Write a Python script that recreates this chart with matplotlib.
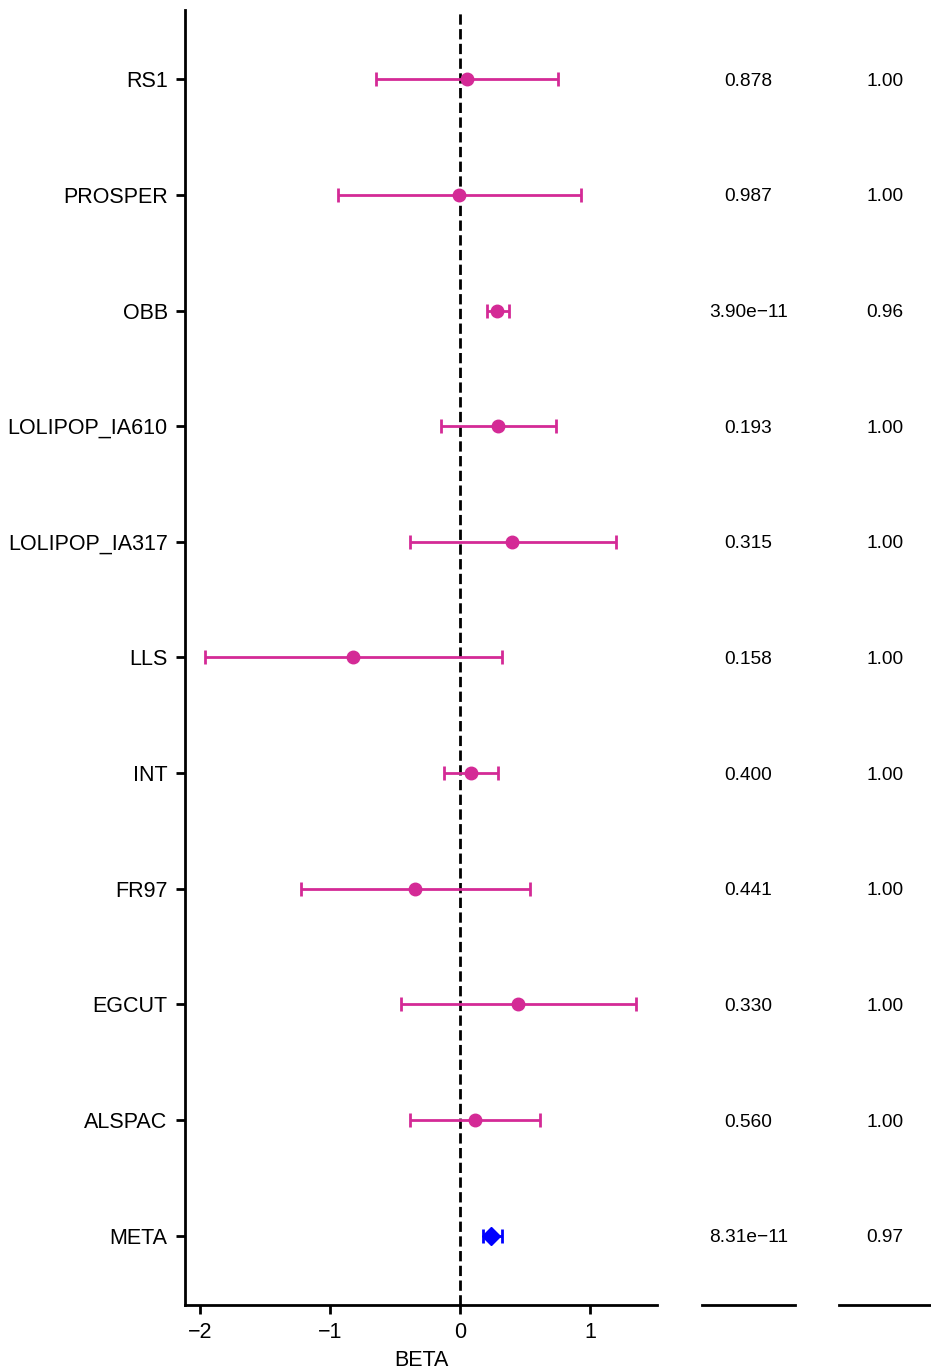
import matplotlib
matplotlib.use("Agg")
import matplotlib.pyplot as plt

plt.rcParams['font.family'] = ['Liberation Sans', 'DejaVu Sans']

studies = ["RS1", "PROSPER", "OBB", "LOLIPOP_IA610", "LOLIPOP_IA317", "LLS",
           "INT", "FR97", "EGCUT", "ALSPAC", "META"]
beta = [0.054, -0.008, 0.285, 0.292, 0.400, -0.823, 0.085, -0.346, 0.446, 0.115, 0.238]
ci_low = [-0.646, -0.938, 0.208, -0.146, -0.385, -1.960, -0.123, -1.223, -0.454, -0.385, 0.177]
ci_high = [0.754, 0.931, 0.377, 0.738, 1.200, 0.323, 0.292, 0.538, 1.354, 0.615, 0.323]
pvals = ["0.878", "0.987", "3.90e\u221211", "0.193", "0.315", "0.158", "0.400",
         "0.441", "0.330", "0.560", "8.31e\u221211"]
col3 = ["1.00", "1.00", "0.96", "1.00", "1.00", "1.00", "1.00", "1.00", "1.00", "1.00", "0.97"]
xticks = [-2, -1, 0, 1]

fig = plt.figure(figsize=(9.31, 13.72), dpi=100)
bottom, height = 0.0488, 0.944
ax = fig.add_axes([0.1987, bottom, 0.507, height])
ax2 = fig.add_axes([0.754, bottom, 0.100, height])
ax3 = fig.add_axes([0.901, bottom, 0.099, height])

n = len(studies)
ypos = [n - 1 - i for i in range(n)]
mag = "#D42A96"
for i, s in enumerate(studies):
    y = ypos[i]
    lo = beta[i] - ci_low[i]
    hi = ci_high[i] - beta[i]
    if s == "META":
        ax.errorbar(beta[i], y, xerr=[[lo], [hi]], fmt='D', color='#0000FF',
                    ms=9, capsize=5, elinewidth=2, capthick=2)
    else:
        ax.errorbar(beta[i], y, xerr=[[lo], [hi]], fmt='o', color=mag,
                    ms=9, capsize=5, elinewidth=2, capthick=2)

ax.axvline(0, color='black', ls='--', lw=2, zorder=0)
ax.set_ylim(-0.6, n - 1 + 0.6)
ax.set_xlim(-2.115, 1.515)
ax.set_yticks(ypos)
ax.set_yticklabels(studies, fontsize=15.5)
ax.set_xticks(xticks)
ax.set_xticklabels(["\u22122", "\u22121", "0", "1"], fontsize=15.5)
ax.set_xlabel("BETA", fontsize=15.5, labelpad=5)
for sp in ["top", "right"]:
    ax.spines[sp].set_visible(False)
for sp in ["left", "bottom"]:
    ax.spines[sp].set_linewidth(2)
ax.tick_params(width=2, length=6.5, pad=6)

for a, vals in [(ax2, pvals), (ax3, col3)]:
    a.set_ylim(-0.6, n - 1 + 0.6)
    a.set_xlim(0, 1)
    for i, v in enumerate(vals):
        a.text(0.5, ypos[i], v, ha='center', va='center_baseline', fontsize=13.8)
    for sp in ["top", "right", "left"]:
        a.spines[sp].set_visible(False)
    a.spines["bottom"].set_linewidth(2)
    a.set_xticks([])
    a.set_yticks([])

fig.savefig("out.png", dpi=100)
